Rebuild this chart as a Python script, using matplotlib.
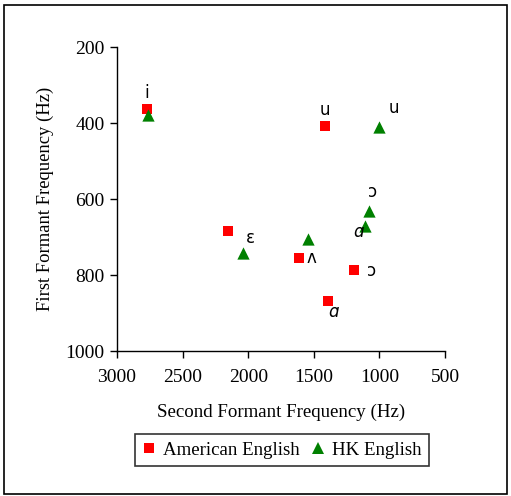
import matplotlib
matplotlib.use("Agg")
import matplotlib.pyplot as plt
from matplotlib.lines import Line2D

# Vowel formant data (Hz)
am_vowels = ["i", "u", "ɛ", "ʌ", "ɔ", "ɑ"]
am_f2 = [2774, 1415, 2152, 1611, 1194, 1389]
am_f1 = [363, 407, 683, 754, 787, 868]

hk_vowels = ["i", "u", "ɛ", "ʌ", "ɔ", "ɑ"]
hk_f2 = [2761, 1001, 2037, 1542, 1077, 1110]
hk_f1 = [379, 411, 743, 705, 632, 670]

x_ticks = [3000, 2500, 2000, 1500, 1000, 500]
y_ticks = [200, 400, 600, 800, 1000]

# Vowel symbol annotations: (series, index, label, dx px, dy px)
vowel_labels = [
    ("am", 0, "i", 0, -16),
    ("am", 1, "u", 0, -16),
    ("hk", 1, "u", 15, -19),
    ("hk", 2, "ε", 7, -15),
    ("am", 3, "ʌ", 12, 0),
    ("hk", 4, "ɔ", 3, -19),
    ("hk", 5, "ɑ", -6, 6),
    ("am", 4, "ɔ", 18, 1),
    ("am", 5, "ɑ", 5, 11),
]

DPI = 100
fig = plt.figure(figsize=(5.11, 4.96), dpi=DPI)
ax = fig.add_axes([117 / 511, 1 - 351 / 496, 328 / 511, 304 / 496])

serif = "Liberation Serif"

ax.scatter(am_f2, am_f1, marker="s", s=52, color="#ff0000", zorder=3,
           linewidths=0)
ax.scatter(hk_f2, hk_f1, marker="^", s=78, color="#008000", zorder=3,
           linewidths=0)

ax.set_xlim(3000, 500)
ax.set_ylim(1000, 200)
ax.set_xticks(x_ticks)
ax.set_yticks(y_ticks)
ax.tick_params(direction="out", length=5, width=1, labelsize=14)
ax.tick_params(axis="x", pad=8)
ax.tick_params(axis="y", pad=4)
for lab in ax.get_xticklabels() + ax.get_yticklabels():
    lab.set_fontfamily(serif)
ax.spines["top"].set_visible(False)
ax.spines["right"].set_visible(False)
ax.spines["left"].set_linewidth(1)
ax.spines["bottom"].set_linewidth(1)

ax.set_xlabel("Second Formant Frequency (Hz)", fontfamily=serif,
              fontsize=13.6, labelpad=13)
ax.set_ylabel("First Formant Frequency (Hz)", fontfamily=serif,
              fontsize=13.4, labelpad=8)

series = {"am": (am_f2, am_f1), "hk": (hk_f2, hk_f1)}
pt = 72 / DPI
for key, i, lab, dx, dy in vowel_labels:
    xs, ys = series[key]
    ax.annotate(lab, (xs[i], ys[i]), xytext=(dx * pt, -dy * pt),
                textcoords="offset points", ha="center", va="center",
                fontsize=12, fontfamily="DejaVu Sans",
                fontstyle="italic" if lab == "ɑ" else "normal", zorder=4)

handles = [
    Line2D([], [], marker="s", linestyle="none", color="#ff0000",
           markersize=7, markeredgewidth=0),
    Line2D([], [], marker="^", linestyle="none", color="#008000",
           markersize=9, markeredgewidth=0),
]
leg = fig.legend(handles, ["American English", "HK English"], ncol=2,
                 loc="center", bbox_to_anchor=(282 / 511, 1 - 450 / 496),
                 prop={"family": serif, "size": 13.6}, frameon=True,
                 fancybox=False, handlelength=0.7, handletextpad=0.4,
                 columnspacing=0.6, borderpad=0.4)
leg.get_frame().set_edgecolor("black")
leg.get_frame().set_linewidth(1.2)

# Outer frame around the whole chart
fig.add_artist(plt.Rectangle((4 / 511, 1 - 494 / 496), 503 / 511, 489 / 496,
                             transform=fig.transFigure, fill=False,
                             edgecolor="black", linewidth=1.2))

fig.savefig("out.png", dpi=DPI)
